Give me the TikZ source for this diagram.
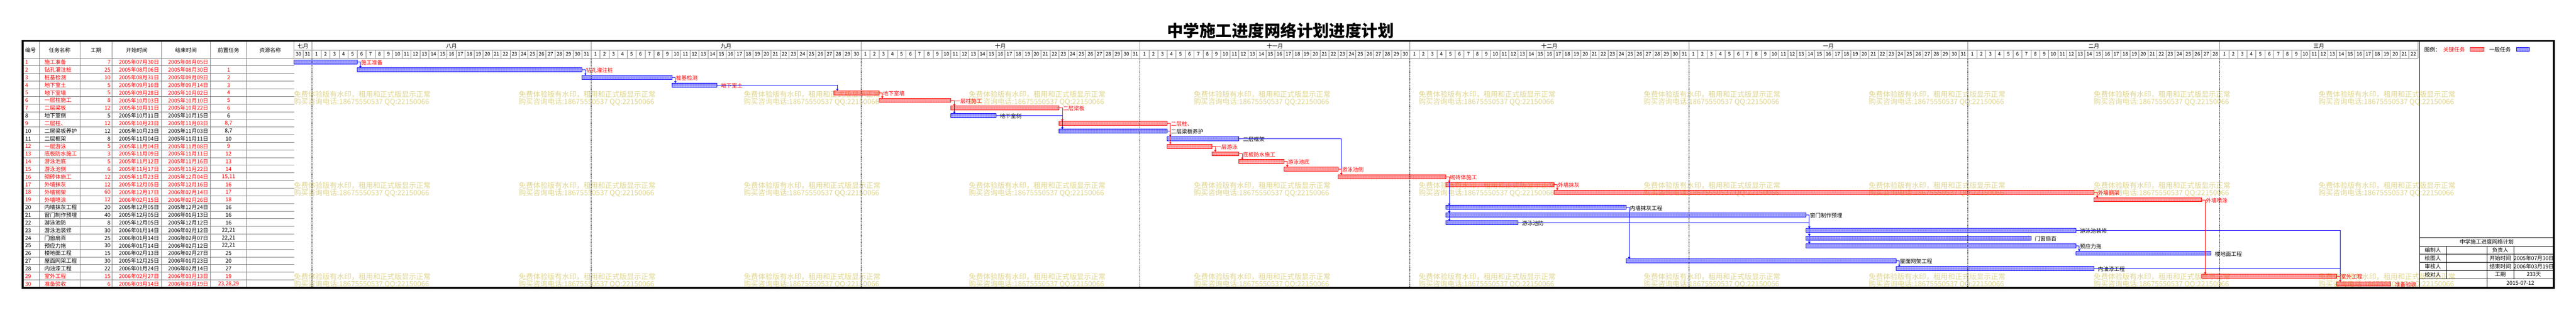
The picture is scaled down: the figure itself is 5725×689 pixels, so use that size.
\documentclass[tikz,border=0pt]{standalone}
\usepackage{fontspec}
\setmainfont{Noto Sans CJK SC}
\usetikzlibrary{arrows.meta,patterns}

\pgfdeclarepatternformonly{checker}{\pgfpointorigin}{\pgfqpoint{2pt}{2pt}}{\pgfqpoint{2pt}{2pt}}{%
  \pgfpathrectangle{\pgfpointorigin}{\pgfqpoint{1pt}{1pt}}%
  \pgfpathrectangle{\pgfqpoint{1pt}{1pt}}{\pgfqpoint{1pt}{1pt}}%
  \pgfusepath{fill}}

\definecolor{gridgray}{RGB}{128,128,128}
\definecolor{wmcolor}{RGB}{222,212,140}

\begin{document}
\begin{tikzpicture}[x=1pt,y=-1pt,font=\fontsize{12}{12}\selectfont,
    cell/.style={inner sep=0pt,outer sep=0pt},
    gridline/.style={draw=gridgray,line width=0.8pt},
    ganttbar/.style={draw=#1,line width=0.8pt,pattern=checker,pattern color=#1,
        minimum height=9pt,inner sep=0pt,outer sep=0pt},
    conn/.style={draw=#1,line width=0.8pt,-{Triangle[length=4pt,width=5pt]}},
    wmark/.style={cell,text=wmcolor,font=\fontsize{16}{16}\selectfont}]

    \useasboundingbox (0,0) rectangle (5725,689);

    \node[cell] (title) at (2846,67.5) {\fontsize{36}{36}\selectfont\bfseries 中学施工进度网络计划进度计划};

    % watermark
    \foreach \k in {0,...,9}
        \foreach \wy [count=\j] in {210,412.5,615} {
            \node[wmark,anchor=west] (wa\k-\j) at ({653+500*\k},\wy) {免费体验版有水印，租用和正式版显示正常};
            \node[wmark,anchor=west] (wb\k-\j) at ({653+500*\k},{\wy+17}) {购买咨询电话:18675550537 QQ:22150066};
        }

    % table header
    \node[cell] (h1) at (68,111.5) {编号};
    \node[cell] (h2) at (132.7,111.5) {任务名称};
    \node[cell] (h3) at (213.5,111.5) {工期};
    \node[cell] (h4) at (304,111.5) {开始时间};
    \node[cell] (h5) at (413.5,111.5) {结束时间};
    \node[cell] (h6) at (508,111.5) {前置任务};
    \node[cell] (h7) at (600.5,111.5) {资源名称};
    \foreach \cx in {87.5,178,249,359,468,548}
        \draw[gridline] (\cx,93) -- (\cx,638);
    \draw[gridline] (653.4,93) -- (653.4,129.3);
    \draw[gridline] (653.4,112) -- (5373.4,112);
    \draw[gridline] (48.4,129.3) -- (5373.4,129.3);

    % months and days
    \foreach \m/\a/\b/\f [count=\i] in {七月/0/2/30, 八月/2/31/1, 九月/33/30/1, 十月/63/31/1,
            十一月/94/30/1, 十二月/124/31/1, 一月/155/31/1, 二月/186/28/1, 三月/214/22/1} {
        \node[cell] (m\i) at ({653.4+20*\a+10*\b},102.5) {\m};
        \draw[gridline] ({653.4+20*(\a+\b)},93) -- ++(0,19);
        \foreach \k in {1,...,\b} {
            \pgfmathtruncatemacro\dd{\f+\k-1}
            \node[cell,font=\fontsize{11}{11}\selectfont] (d\i-\k) at ({653.4+20*(\a+\k)-10},120.5) {\dd};
            \draw[gridline] ({653.4+20*(\a+\k)},112) -- ++(0,17.3);
        }
        \ifnum\a>0
            \draw[densely dotted,line width=0.8pt] ({653.4+20*\a},129.3) -- ({653.4+20*\a},638);
        \fi
    }

    % tasks: table row, bar and label
    \foreach \n/\name/\dur/\st/\en/\pre/\tc/\bc/\s/\e in {
            1/施工准备/7/2005年07月30日/2005年08月05日/{}/red/blue/0/6,
            2/钻孔灌注桩/25/2005年08月06日/2005年08月30日/1/red/blue/7/31,
            3/桩基检测/10/2005年08月31日/2005年09月09日/2/red/blue/32/41,
            4/地下室土/5/2005年09月10日/2005年09月14日/3/red/blue/42/46,
            5/地下室墙/5/2005年09月28日/2005年10月02日/4/red/red/60/64,
            6/一层柱施工/8/2005年10月03日/2005年10月10日/5/red/red/65/72,
            7/二层梁板/12/2005年10月11日/2005年10月22日/6/red/red/73/84,
            8/地下室侧/5/2005年10月11日/2005年10月15日/6/black/blue/73/77,
            9/二层柱、/12/2005年10月23日/2005年11月03日/{8,7}/red/red/85/96,
            10/二层梁板养护/12/2005年10月23日/2005年11月03日/{8,7}/black/blue/85/96,
            11/二层框架/8/2005年11月04日/2005年11月11日/10/black/blue/97/104,
            12/一层游泳/5/2005年11月04日/2005年11月08日/9/red/red/97/101,
            13/底板防水施工/3/2005年11月09日/2005年11月11日/12/red/red/102/104,
            14/游泳池底/5/2005年11月12日/2005年11月16日/13/red/red/105/109,
            15/游泳池侧/6/2005年11月17日/2005年11月22日/14/red/red/110/115,
            16/砌砖体施工/12/2005年11月23日/2005年12月04日/{15,11}/red/red/116/127,
            17/外墙抹灰/12/2005年12月05日/2005年12月16日/16/red/red/128/139,
            18/外墙钢架/60/2005年12月17日/2006年02月14日/17/red/red/140/199,
            19/外墙喷涂/12/2006年02月15日/2006年02月26日/18/red/red/200/211,
            20/内墙抹灰工程/20/2005年12月05日/2005年12月24日/16/black/blue/128/147,
            21/窗门制作预埋/40/2005年12月05日/2006年01月13日/16/black/blue/128/167,
            22/游泳池防/8/2005年12月05日/2005年12月12日/16/black/blue/128/135,
            23/游泳池装修/30/2006年01月14日/2006年02月12日/{22,21}/black/blue/168/197,
            24/门窗扇百/25/2006年01月14日/2006年02月07日/{22,21}/black/blue/168/192,
            25/预应力拖/30/2006年01月14日/2006年02月12日/{22,21}/black/blue/168/197,
            26/楼地面工程/15/2006年02月13日/2006年02月27日/25/black/blue/198/212,
            27/屋面网架工程/30/2005年12月25日/2006年01月23日/20/black/blue/148/177,
            28/内油漆工程/22/2006年01月24日/2006年02月14日/27/black/blue/178/199,
            29/室外工程/15/2006年02月27日/2006年03月13日/19/red/red/212/226,
            30/准备验收/6/2006年03月14日/2006年03月19日/{23,28,29}/red/red/227/232} {
        \pgfmathsetmacro\ty{129.3+17*(\n-1)}
        \pgfmathsetmacro\bw{(\e-\s+1)*20}
        \pgfmathsetmacro\bx{653.4+10*(\s+\e+1)}
        \node[cell,anchor=west,text=\tc] (no\n) at (56,{\ty+9}) {\n};
        \node[cell,anchor=west,text=\tc] (nm\n) at (99,{\ty+9}) {\name};
        \node[cell,anchor=east,text=\tc] (du\n) at (245.5,{\ty+9}) {\dur};
        \node[cell,anchor=east,text=\tc] (st\n) at (353.5,{\ty+9}) {\st};
        \node[cell,anchor=east,text=\tc] (en\n) at (463,{\ty+9}) {\en};
        \node[cell,text=\tc] (pr\n) at (508,{\ty+9}) {\pre};
        \draw[gridline] (48.4,{\ty+17}) -- (653.4,{\ty+17});
        \node[ganttbar=\bc,minimum width=\bw pt] (b\n) at (\bx,{\ty+8.8}) {};
        \node[cell,anchor=west,text=\tc] (t\n) at ([xshift=9pt,yshift=-1.5pt]b\n.east) {\name};
    }

    % links
    \foreach \pa/\su in {1/2,2/3,3/4,4/5,6/8,8/9,8/10,7/10,10/11,11/16,16/20,16/21,16/22,
            22/23,21/23,22/24,21/24,22/25,21/25,25/26,20/27,27/28,23/30,28/30}
        \draw[conn=blue] (b\pa.east) -| ([xshift=7.5pt]b\su.north west);
    \foreach \pa/\su in {5/6,6/7,7/9,9/12,12/13,13/14,14/15,15/16,16/17,17/18,18/19,19/29,29/30}
        \draw[conn=red] (b\pa.east) -| ([xshift=7.5pt]b\su.north west);

    % legend
    \draw[line width=1pt] (5377,93) -- (5377,638);
    \node[cell,anchor=west] (lg) at (5388,110) {图例：};
    \node[cell,anchor=west,text=red] (lgc) at (5430,110) {关键任务};
    \node[ganttbar=red,minimum width=30pt] (lgr) at (5505,109.7) {};
    \node[cell,anchor=west] (lgn) at (5532,110) {一般任务};
    \node[ganttbar=blue,minimum width=29.4pt] (lgb) at (5607,109.7) {};

    % title block
    \foreach \hy in {528.3,547.3,565.3,583.3,601.3,619.3}
        \draw[line width=0.8pt] (5377,\hy) -- (5676,\hy);
    \draw[line width=0.8pt] (5436.7,547.3) -- (5436.7,619.3);
    \draw[line width=0.8pt] (5526.7,547.3) -- (5526.7,640);
    \draw[line width=0.8pt] (5586.7,547.3) -- (5586.7,619.3);
    \node[cell] (it) at (5526.5,538) {中学施工进度网络计划};
    \foreach \la/\lb/\vb [count=\ri] in {编制人/负责人/{}, 绘图人/开始时间/2005年07月30日,
            审核人/结束时间/2006年03月19日, 校对人/工期/233天} {
        \node[cell] (ia\ri) at (5406.7,{538.3+18*\ri}) {\la};
        \node[cell] (ib\ri) at (5556.7,{538.3+18*\ri}) {\lb};
        \node[cell] (ic\ri) at (5631.3,{538.3+18*\ri}) {\vb};
    }
    \node[cell] (idate) at (5601.3,629) {2015-07-12};

    % frame
    \draw[line width=4.5pt] (50.5,91) rectangle (5676,640);

\end{tikzpicture}
\end{document}
